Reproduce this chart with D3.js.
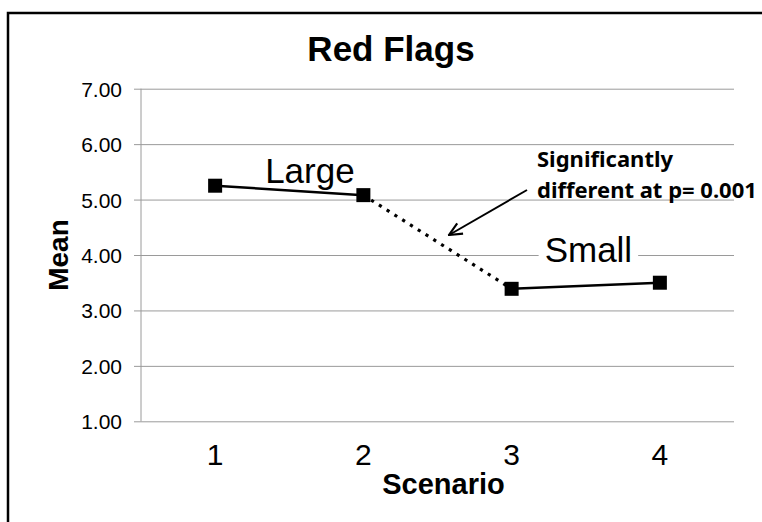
<!DOCTYPE html>
<html>
<head>
<meta charset="utf-8">
<script src="https://cdn.jsdelivr.net/npm/d3@7"></script>
<style>
  body { margin: 0; background: #fff; }
  svg { display: block; }
  .grid line { stroke: #9a9a9a; stroke-width: 1; }
  .tick-label { font-family: "Liberation Sans", Arial, sans-serif; fill: #000; }
</style>
</head>
<body>
<svg id="chart" width="762" height="522"></svg>
<script>
// Data
var scenarios = ["1", "2", "3", "4"];
var means = [5.25, 5.08, 3.39, 3.50];
var yTicks = [1, 2, 3, 4, 5, 6, 7];
var groupLabels = [
  {text: "Large", scenario: "1"},
  {text: "Small", scenario: "3"}
];
var noteLines = ["Significantly", "different at p= 0.001"];

var svg = d3.select("#chart");

var margin = {top: 88.7, right: 28, bottom: 100.7, left: 141},
    width = 762 - margin.left - margin.right,
    height = 522 - margin.top - margin.bottom;

var data = scenarios.map(function(s, i) { return {scenario: s, mean: means[i]}; });

var x = d3.scaleBand().domain(scenarios).range([0, width]).padding(0);
var y = d3.scaleLinear().domain([1, 7]).range([height, 0]);

function cx(d) { return x(d.scenario) + x.bandwidth() / 2; }
function cy(d) { return y(d.mean); }

// Outer frame (only top and left edges visible)
svg.append("rect")
    .attr("x", 8)
    .attr("y", 13)
    .attr("width", 800)
    .attr("height", 560)
    .attr("fill", "none")
    .attr("stroke", "#000")
    .attr("stroke-width", 2.5);

// Title
svg.append("text")
    .attr("x", 391)
    .attr("y", 61)
    .attr("text-anchor", "middle")
    .style("font-family", "'Liberation Sans', Arial, sans-serif")
    .style("font-weight", "bold")
    .style("font-size", "35px")
    .text("Red Flags");

var g = svg.append("g")
    .attr("transform", "translate(" + margin.left + "," + margin.top + ")");

// Horizontal gridlines + y ticks
var yAxis = d3.axisLeft(y)
    .tickValues(yTicks)
    .tickSize(-width)
    .tickFormat(d3.format(".2f"));

var ya = g.append("g")
    .attr("class", "grid")
    .call(yAxis);
ya.select(".domain").remove();
ya.selectAll(".tick line")
    .attr("x1", -7);
ya.selectAll(".tick text")
    .attr("class", "tick-label")
    .attr("x", -19)
    .attr("dy", "0.36em")
    .style("font-size", "21px")
    .style("font-family", "'Liberation Sans', Arial, sans-serif")
    .attr("fill", "#000");

// Y axis line
g.append("line")
    .attr("x1", 0).attr("x2", 0)
    .attr("y1", 0).attr("y2", height)
    .attr("stroke", "#9a9a9a")
    .attr("stroke-width", 1);

// X tick labels
var xAxis = d3.axisBottom(x).tickSize(0).tickPadding(0);
var xa = g.append("g")
    .attr("transform", "translate(0," + height + ")")
    .call(xAxis);
xa.select(".domain").remove();
xa.selectAll(".tick text")
    .attr("y", 44)
    .attr("dy", 0)
    .attr("fill", "#000")
    .style("font-size", "30px")
    .style("font-family", "'Liberation Sans', Arial, sans-serif");

// Axis titles
g.append("text")
    .attr("transform", "translate(" + (width / 2 + 6) + "," + (height + 73) + ")")
    .attr("text-anchor", "middle")
    .style("font-family", "'Liberation Sans', Arial, sans-serif")
    .style("font-weight", "bold")
    .style("font-size", "29px")
    .text("Scenario");

g.append("text")
    .attr("transform", "translate(" + (68 - margin.left) + "," + (height / 2) + ") rotate(-90)")
    .attr("text-anchor", "middle")
    .style("font-family", "'Liberation Sans', Arial, sans-serif")
    .style("font-weight", "bold")
    .style("font-size", "28px")
    .text("Mean");

// Lines: solid within groups, dotted between them
var line = d3.line().x(cx).y(cy);

g.append("path")
    .attr("d", line(data.slice(0, 2)))
    .attr("fill", "none")
    .attr("stroke", "#000")
    .attr("stroke-width", 2.5);

g.append("path")
    .attr("d", line(data.slice(2, 4)))
    .attr("fill", "none")
    .attr("stroke", "#000")
    .attr("stroke-width", 2.5);

g.append("path")
    .attr("d", line(data.slice(1, 3)))
    .attr("fill", "none")
    .attr("stroke", "#000")
    .attr("stroke-width", 3.2)
    .attr("stroke-dasharray", "3.2,6");

// Markers
g.selectAll("rect.marker")
    .data(data)
    .enter().append("rect")
    .attr("class", "marker")
    .attr("x", function(d) { return cx(d) - 7; })
    .attr("y", function(d) { return cy(d) - 7; })
    .attr("width", 14)
    .attr("height", 14)
    .attr("fill", "#000");

// Group labels ("Large", "Small")
var labelPos = {
  "Large": {dx: 50, y: 183},
  "Small": {dx: 33, y: 262}
};
groupLabels.forEach(function(l) {
  var p = labelPos[l.text];
  var t = g.append("text")
      .attr("x", x(l.scenario) + x.bandwidth() / 2 + p.dx)
      .attr("y", p.y - margin.top)
      .style("font-family", "'Liberation Sans', Arial, sans-serif")
      .style("font-size", "35px")
      .text(l.text);
  if (l.text === "Small") {
    var bb = t.node().getBBox();
    g.insert("rect", function() { return t.node(); })
        .attr("x", bb.x - 6)
        .attr("y", bb.y + 4)
        .attr("width", bb.width + 12)
        .attr("height", bb.height - 8)
        .attr("fill", "#fff");
  }
});

// Annotation arrow
var defs = svg.append("defs");
defs.append("marker")
    .attr("id", "arrow")
    .attr("viewBox", "0 0 14 14")
    .attr("refX", 13)
    .attr("refY", 7)
    .attr("markerWidth", 15)
    .attr("markerHeight", 15)
    .attr("markerUnits", "userSpaceOnUse")
    .attr("orient", "auto")
    .append("path")
    .attr("d", "M1,1.5 L13,7 L1,12.5")
    .attr("fill", "none")
    .attr("stroke", "#000")
    .attr("stroke-width", 2);

svg.append("line")
    .attr("x1", 527).attr("y1", 190)
    .attr("x2", 449).attr("y2", 235)
    .attr("stroke", "#000")
    .attr("stroke-width", 2)
    .attr("marker-end", "url(#arrow)");

// Annotation text
var note = svg.append("text")
    .style("font-family", "'Noto Sans', 'Open Sans', sans-serif")
    .style("font-weight", "bold")
    .style("font-size", "22px");
noteLines.forEach(function(s, i) {
  note.append("tspan")
      .attr("x", 537)
      .attr("y", 167 + i * 30.5)
      .text(s);
});
</script>
</body>
</html>
